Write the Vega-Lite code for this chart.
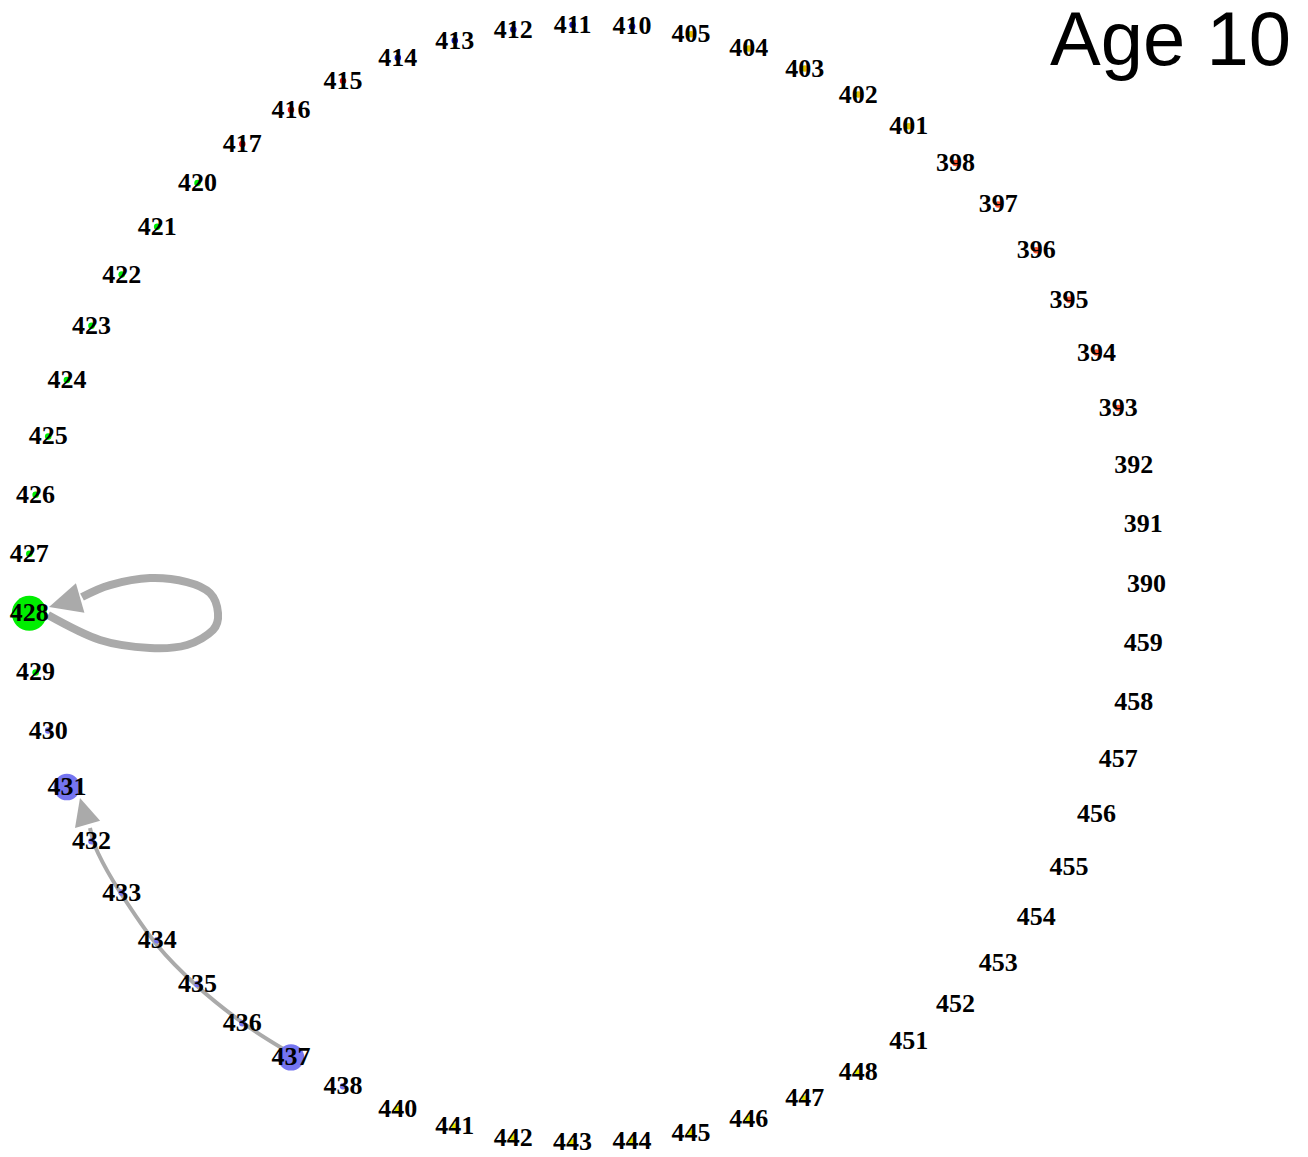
{
  "$schema": "https://vega.github.io/schema/vega-lite/v6.json",
  "width": 1308,
  "height": 1157,
  "padding": 0,
  "autosize": {"type": "fit", "contains": "padding"},
  "background": "#ffffff",
  "config": {"view": {"stroke": null}},
  "resolve": {"scale": {"size": "independent", "angle": "independent", "strokeWidth": "independent"}},
  "datasets": {
    "nodes": [
      {"id": "390", "x": 1.0, "y": 0.0, "group": "none", "count": 1},
      {"id": "459", "x": 0.99433, "y": 0.10629, "group": "none", "count": 1},
      {"id": "458", "x": 0.97741, "y": 0.21138, "group": "none", "count": 1},
      {"id": "457", "x": 0.9494, "y": 0.31408, "group": "none", "count": 1},
      {"id": "456", "x": 0.91065, "y": 0.41322, "group": "none", "count": 1},
      {"id": "455", "x": 0.86155, "y": 0.50767, "group": "none", "count": 1},
      {"id": "454", "x": 0.80272, "y": 0.59637, "group": "none", "count": 1},
      {"id": "453", "x": 0.73477, "y": 0.67831, "group": "none", "count": 1},
      {"id": "452", "x": 0.65851, "y": 0.75257, "group": "none", "count": 1},
      {"id": "451", "x": 0.57479, "y": 0.8183, "group": "none", "count": 1},
      {"id": "448", "x": 0.48455, "y": 0.87476, "group": "G", "count": 1},
      {"id": "447", "x": 0.38882, "y": 0.92131, "group": "G", "count": 1},
      {"id": "446", "x": 0.28869, "y": 0.95742, "group": "G", "count": 1},
      {"id": "445", "x": 0.18529, "y": 0.98269, "group": "G", "count": 1},
      {"id": "444", "x": 0.07979, "y": 0.99681, "group": "G", "count": 1},
      {"id": "443", "x": -0.02662, "y": 0.99965, "group": "G", "count": 1},
      {"id": "442", "x": -0.13272, "y": 0.99115, "group": "G", "count": 1},
      {"id": "441", "x": -0.23733, "y": 0.97143, "group": "G", "count": 1},
      {"id": "440", "x": -0.33924, "y": 0.9407, "group": "G", "count": 1},
      {"id": "438", "x": -0.43731, "y": 0.89931, "group": "F", "count": 1},
      {"id": "437", "x": -0.53042, "y": 0.84774, "group": "F", "count": 6},
      {"id": "436", "x": -0.61753, "y": 0.78655, "group": "F", "count": 1},
      {"id": "435", "x": -0.69764, "y": 0.71646, "group": "F", "count": 1},
      {"id": "434", "x": -0.76983, "y": 0.63825, "group": "F", "count": 1},
      {"id": "433", "x": -0.83332, "y": 0.5528, "group": "F", "count": 1},
      {"id": "432", "x": -0.88736, "y": 0.46109, "group": "F", "count": 1},
      {"id": "431", "x": -0.93133, "y": 0.36416, "group": "F", "count": 6},
      {"id": "430", "x": -0.96478, "y": 0.26311, "group": "F", "count": 1},
      {"id": "429", "x": -0.98727, "y": 0.15906, "group": "E", "count": 1},
      {"id": "428", "x": -0.99858, "y": 0.05322, "group": "E", "count": 10},
      {"id": "427", "x": -0.99858, "y": -0.05322, "group": "E", "count": 1},
      {"id": "426", "x": -0.98727, "y": -0.15906, "group": "E", "count": 1},
      {"id": "425", "x": -0.96478, "y": -0.26311, "group": "E", "count": 1},
      {"id": "424", "x": -0.93133, "y": -0.36416, "group": "E", "count": 1},
      {"id": "423", "x": -0.88736, "y": -0.46109, "group": "E", "count": 1},
      {"id": "422", "x": -0.83332, "y": -0.5528, "group": "E", "count": 1},
      {"id": "421", "x": -0.76983, "y": -0.63825, "group": "E", "count": 1},
      {"id": "420", "x": -0.69764, "y": -0.71646, "group": "E", "count": 1},
      {"id": "417", "x": -0.61753, "y": -0.78655, "group": "D", "count": 1},
      {"id": "416", "x": -0.53042, "y": -0.84774, "group": "D", "count": 1},
      {"id": "415", "x": -0.43731, "y": -0.89931, "group": "D", "count": 1},
      {"id": "414", "x": -0.33924, "y": -0.9407, "group": "C", "count": 1},
      {"id": "413", "x": -0.23733, "y": -0.97143, "group": "C", "count": 1},
      {"id": "412", "x": -0.13272, "y": -0.99115, "group": "C", "count": 1},
      {"id": "411", "x": -0.02662, "y": -0.99965, "group": "C", "count": 1},
      {"id": "410", "x": 0.07979, "y": -0.99681, "group": "C", "count": 1},
      {"id": "405", "x": 0.18529, "y": -0.98269, "group": "B", "count": 1},
      {"id": "404", "x": 0.28869, "y": -0.95742, "group": "B", "count": 1},
      {"id": "403", "x": 0.38882, "y": -0.92131, "group": "B", "count": 1},
      {"id": "402", "x": 0.48455, "y": -0.87476, "group": "B", "count": 1},
      {"id": "401", "x": 0.57479, "y": -0.8183, "group": "B", "count": 1},
      {"id": "398", "x": 0.65851, "y": -0.75257, "group": "A", "count": 1},
      {"id": "397", "x": 0.73477, "y": -0.67831, "group": "A", "count": 1},
      {"id": "396", "x": 0.80272, "y": -0.59637, "group": "A", "count": 1},
      {"id": "395", "x": 0.86155, "y": -0.50767, "group": "A", "count": 1},
      {"id": "394", "x": 0.91065, "y": -0.41322, "group": "A", "count": 1},
      {"id": "393", "x": 0.9494, "y": -0.31408, "group": "A", "count": 1},
      {"id": "392", "x": 0.97741, "y": -0.21138, "group": "none", "count": 1},
      {"id": "391", "x": 0.99433, "y": -0.10629, "group": "none", "count": 1}
    ],
    "edges": [
      {"edge": "428-428", "weight": 2, "order": 0, "x": -0.9651, "y": 0.0564},
      {"edge": "428-428", "weight": 2, "order": 1, "x": -0.8721, "y": 0.1011},
      {"edge": "428-428", "weight": 2, "order": 2, "x": -0.7827, "y": 0.1154},
      {"edge": "428-428", "weight": 2, "order": 3, "x": -0.7165, "y": 0.11},
      {"edge": "428-428", "weight": 2, "order": 4, "x": -0.6699, "y": 0.0832},
      {"edge": "428-428", "weight": 2, "order": 5, "x": -0.661, "y": 0.0528},
      {"edge": "428-428", "weight": 2, "order": 6, "x": -0.6753, "y": 0.017},
      {"edge": "428-428", "weight": 2, "order": 7, "x": -0.7165, "y": -0.0027},
      {"edge": "428-428", "weight": 2, "order": 8, "x": -0.7827, "y": -0.0098},
      {"edge": "428-428", "weight": 2, "order": 9, "x": -0.8542, "y": 0.0027},
      {"edge": "428-428", "weight": 2, "order": 10, "x": -0.9043, "y": 0.0242},
      {"edge": "437-431", "weight": 1, "order": 0, "x": -0.5411, "y": 0.8345},
      {"edge": "437-431", "weight": 1, "order": 1, "x": -0.6163, "y": 0.7862},
      {"edge": "437-431", "weight": 1, "order": 2, "x": -0.6986, "y": 0.72},
      {"edge": "437-431", "weight": 1, "order": 3, "x": -0.7701, "y": 0.6467},
      {"edge": "437-431", "weight": 1, "order": 4, "x": -0.8363, "y": 0.5519},
      {"edge": "437-431", "weight": 1, "order": 5, "x": -0.8757, "y": 0.4821},
      {"edge": "437-431", "weight": 1, "order": 6, "x": -0.89, "y": 0.4374}
    ],
    "arrows": [
      {"edge": "428-428", "weight": 2, "x": -0.9633, "y": 0.042},
      {"edge": "437-431", "weight": 1, "x": -0.9079, "y": 0.3837}
    ]
  },
  "layer": [
    {
      "data": {"name": "edges"},
      "mark": {"type": "line", "interpolate": "cardinal", "color": "#aaaaaa", "strokeCap": "butt"},
      "encoding": {
        "x": {"field": "x", "type": "quantitative", "scale": {"domain": [-1.051, 1.289], "nice": false, "zero": false}, "axis": null},
        "y": {"field": "y", "type": "quantitative", "scale": {"domain": [-1.044, 1.026], "nice": false, "zero": false, "reverse": true}, "axis": null},
        "detail": {"field": "edge", "type": "nominal"},
        "order": {"field": "order", "type": "quantitative"},
        "strokeWidth": {"field": "weight", "type": "quantitative", "scale": {"domain": [1, 2], "range": [4, 8], "zero": false}, "legend": null}
      }
    },
    {
      "data": {"name": "arrows"},
      "mark": {"type": "point", "filled": true, "shape": "M0,0L-2,-0.95L-2,0.95Z", "color": "#aaaaaa", "opacity": 1, "strokeWidth": 0},
      "encoding": {
        "x": {"field": "x", "type": "quantitative", "scale": {"domain": [-1.051, 1.289], "nice": false, "zero": false}, "axis": null},
        "y": {"field": "y", "type": "quantitative", "scale": {"domain": [-1.044, 1.026], "nice": false, "zero": false, "reverse": true}, "axis": null},
        "size": {"field": "weight", "type": "quantitative", "scale": {"domain": [1, 2], "range": [756, 1050], "zero": false}, "legend": null},
        "angle": {"field": "edge", "type": "nominal", "scale": {"domain": ["428-428", "437-431"], "range": [164, 254]}, "legend": null}
      }
    },
    {
      "data": {"name": "nodes"},
      "mark": {"type": "point", "shape": "circle", "filled": true, "opacity": 1, "strokeWidth": 0},
      "encoding": {
        "x": {"field": "x", "type": "quantitative", "scale": {"domain": [-1.051, 1.289], "nice": false, "zero": false}, "axis": null},
        "y": {"field": "y", "type": "quantitative", "scale": {"domain": [-1.044, 1.026], "nice": false, "zero": false, "reverse": true}, "axis": null},
        "size": {"field": "count", "type": "quantitative", "scale": {"domain": [1, 10], "range": [42, 1225], "zero": false}, "legend": null},
        "color": {"field": "group", "type": "nominal", "scale": {"domain": ["A", "B", "C", "D", "E", "F", "G", "none"], "range": ["#ff5533", "#e6c000", "#1a1acc", "#e01010", "#00ee00", "#7575f0", "#e6e600", "#ffffff"]}, "legend": null}
      }
    },
    {
      "data": {"name": "nodes"},
      "mark": {"type": "text", "font": "Liberation Serif", "fontWeight": "bold", "fontSize": 26, "align": "center", "baseline": "middle", "color": "#000000"},
      "encoding": {
        "x": {"field": "x", "type": "quantitative", "scale": {"domain": [-1.051, 1.289], "nice": false, "zero": false}, "axis": null},
        "y": {"field": "y", "type": "quantitative", "scale": {"domain": [-1.044, 1.026], "nice": false, "zero": false, "reverse": true}, "axis": null},
        "text": {"field": "id", "type": "nominal"}
      }
    },
    {
      "data": {"values": [{"label": "Age 10"}]},
      "mark": {"type": "text", "font": "Liberation Sans", "fontSize": 76, "align": "right", "baseline": "alphabetic", "color": "#000000"},
      "encoding": {
        "x": {"datum": 1.2585, "type": "quantitative", "scale": {"domain": [-1.051, 1.289], "nice": false, "zero": false}, "axis": null},
        "y": {"datum": -0.9275, "type": "quantitative", "scale": {"domain": [-1.044, 1.026], "nice": false, "zero": false, "reverse": true}, "axis": null},
        "text": {"field": "label", "type": "nominal"}
      }
    }
  ]
}
